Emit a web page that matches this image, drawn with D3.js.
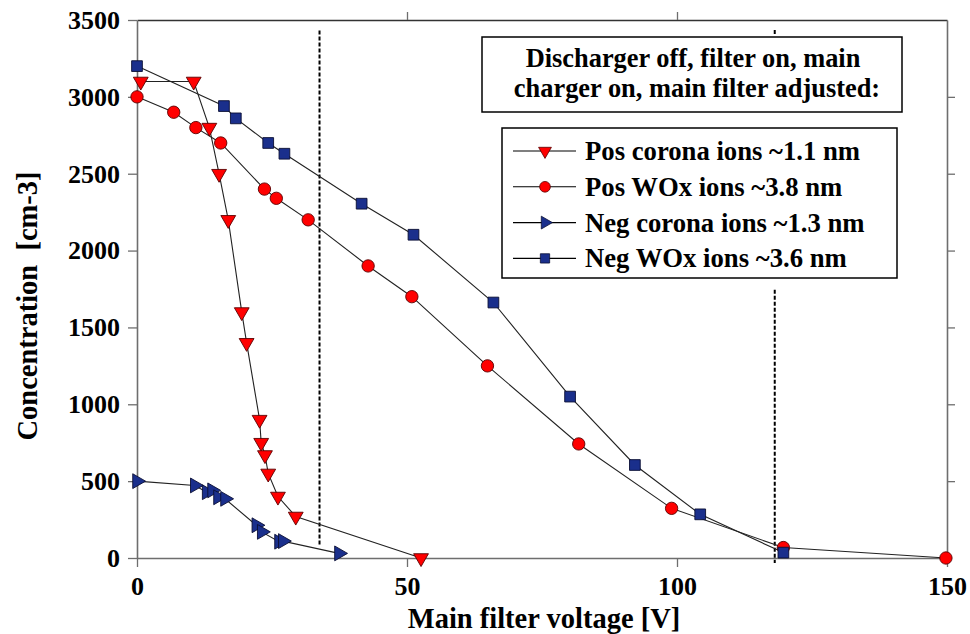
<!DOCTYPE html>
<html lang="en">
<head>
<meta charset="UTF-8">
<title>Main filter voltage</title>
<style>
  body { margin: 0; background: #fff; }
</style>
</head>
<body>
<script src="https://d3js.org/d3.v7.min.js"></script>
<script>
// values
let posCoronaX = [0.7, 10.5, 13.4, 15.2, 16.9, 19.4, 20.3, 22.7, 23.0, 23.7, 24.3, 26.1, 29.4, 52.6];
let posCoronaY = [3100, 3100, 2800, 2500, 2200, 1600, 1400, 900, 750, 670, 550, 400, 270, 0];

let posWoxX = [0, 6.8, 10.9, 15.5, 23.6, 25.8, 31.7, 42.8, 50.9, 64.9, 81.8, 99.0, 119.7, 149.8];
let posWoxY = [3000, 2900, 2800, 2700, 2400, 2340, 2200, 1900, 1700, 1250, 742, 323, 68, 0];

let negCoronaX = [0, 10.7, 12.9, 13.9, 15.0, 16.3, 22.1, 23.1, 26.3, 27.0, 37.4];
let negCoronaY = [500, 472, 428, 440, 395, 385, 213, 170, 106, 110, 30];

let negWoxX = [0, 16.1, 18.3, 24.3, 27.3, 41.6, 51.2, 66.0, 80.2, 92.2, 104.3, 119.7];
let negWoxY = [3200, 2940, 2860, 2700, 2630, 2305, 2103, 1662, 1050, 605, 284, 35];

let seriesNames = ["Pos corona ions ~1.1 nm", "Pos WOx ions ~3.8 nm", "Neg corona ions ~1.3 nm", "Neg WOx ions ~3.6 nm"];

let xTicks = [0, 50, 100, 150];
let yTicks = [0, 500, 1000, 1500, 2000, 2500, 3000, 3500];

// dashed markers: [x, yFrom, yTo]
let dashLines = [[33.8, 3431, 85], [118.1, 3435, 3405], [118.1, 1745, -33]];

let titleLines = ["Discharger off, filter on, main", "charger on, main filter adjusted:"];

let serifFont = "'Liberation Serif', 'DejaVu Serif', 'Noto Serif', 'Times New Roman', serif";

// layout
let svgWidth = 970, svgHeight = 634;
let margin = { top: 20, right: 23, bottom: 76, left: 137 };
let chartWidth = svgWidth - margin.left - margin.right;
let chartHeight = svgHeight - margin.top - margin.bottom;

let svg = d3.select("body").append("svg")
  .attr("width", svgWidth)
  .attr("height", svgHeight)
  .attr("font-family", serifFont)
  .attr("font-weight", "bold");

let g = svg.append("g")
  .attr("transform", `translate(${margin.left},${margin.top})`);

let xScale = d3.scaleLinear().domain([0, 150]).range([0, chartWidth]);
let yScale = d3.scaleLinear().domain([0, 3500]).range([chartHeight, 0]);

// axes
let axisColor = "#6e6e6e";
function styleAxis(sel) {
  sel.attr("font-family", serifFont).attr("font-size", 26);
  sel.select(".domain").attr("stroke", axisColor).attr("stroke-width", 1.6);
  sel.selectAll(".tick line").attr("stroke", axisColor).attr("stroke-width", 1.3);
  sel.selectAll("text").attr("fill", "#000");
}

g.append("g")
  .attr("transform", `translate(0,${chartHeight})`)
  .call(d3.axisBottom(xScale).tickValues(xTicks).tickFormat(d3.format("d")).tickSize(9).tickSizeOuter(0).tickPadding(10))
  .call(styleAxis);

g.append("g")
  .call(d3.axisTop(xScale).tickValues([50, 100]).tickSize(8).tickSizeOuter(0).tickFormat(""))
  .call(styleAxis)
  .select(".domain").attr("stroke", "#333");

g.append("g")
  .attr("transform", `translate(${chartWidth},0)`)
  .call(d3.axisRight(yScale).tickValues([500, 1000, 1500, 2000, 2500, 3000]).tickSize(8).tickSizeOuter(0).tickFormat(""))
  .call(styleAxis);

g.append("g")
  .call(d3.axisLeft(yScale).tickValues(yTicks).tickFormat(d3.format("d")).tickSize(9).tickSizeOuter(0).tickPadding(8))
  .call(styleAxis);

// axis titles
g.append("text")
  .attr("x", chartWidth / 2 + 2)
  .attr("y", chartHeight + 70)
  .attr("text-anchor", "middle")
  .attr("font-size", 28.5)
  .text("Main filter voltage [V]");

g.append("text")
  .attr("transform", "rotate(-90)")
  .attr("x", -(306 - margin.top))
  .attr("y", -margin.left + 37)
  .attr("text-anchor", "middle")
  .attr("font-size", 28.5)
  .style("white-space", "pre")
  .text("Concentration  [cm-3]");

// dashed vertical lines
g.selectAll(".dash")
  .data(dashLines)
  .enter()
  .append("line")
  .attr("x1", d => xScale(d[0]))
  .attr("x2", d => xScale(d[0]))
  .attr("y1", d => yScale(d[1]))
  .attr("y2", d => yScale(d[2]))
  .attr("stroke", "#000")
  .attr("stroke-width", 2)
  .attr("stroke-dasharray", "4,2");

// series
let red = "#ff0000", redEdge = "#5a0000";
let blue = "#1a2f8c", blueEdge = "#0a0f33";

let series = [
  { name: seriesNames[0], xs: posCoronaX, ys: posCoronaY, shape: d3.symbolTriangle, rot: 180, size: 95, fill: red, edge: redEdge },
  { name: seriesNames[1], xs: posWoxX, ys: posWoxY, shape: d3.symbolCircle, rot: 0, size: 120, fill: red, edge: redEdge },
  { name: seriesNames[2], xs: negCoronaX, ys: negCoronaY, shape: d3.symbolTriangle, rot: 90, size: 95, fill: blue, edge: blueEdge },
  { name: seriesNames[3], xs: negWoxX, ys: negWoxY, shape: d3.symbolSquare, rot: 0, size: 115, fill: blue, edge: blueEdge }
];

let line = d3.line()
  .x(d => xScale(d[0]))
  .y(d => yScale(d[1]));

series.forEach(function(s) {
  let pts = s.xs.map((x, i) => [x, s.ys[i]]);
  g.append("path")
    .datum(pts)
    .attr("fill", "none")
    .attr("stroke", "#222")
    .attr("stroke-width", 1.1)
    .attr("d", line);
});

series.forEach(function(s) {
  let pts = s.xs.map((x, i) => [x, s.ys[i]]);
  g.selectAll(null)
    .data(pts)
    .enter()
    .append("path")
    .attr("d", d3.symbol().type(s.shape).size(s.size))
    .attr("transform", d => `translate(${xScale(d[0])},${yScale(d[1])}) rotate(${s.rot})`)
    .attr("fill", s.fill)
    .attr("stroke", s.edge)
    .attr("stroke-width", 0.9);
});

// title box
let titleBox = svg.append("g").attr("transform", "translate(482,37)");
titleBox.append("rect")
  .attr("width", 420).attr("height", 75)
  .attr("fill", "#fff").attr("stroke", "#000").attr("stroke-width", 1.5);
titleBox.selectAll("text")
  .data(titleLines)
  .enter()
  .append("text")
  .attr("x", (d, i) => 211 + i * 4)
  .attr("y", (d, i) => 30 + i * 30)
  .attr("text-anchor", "middle")
  .attr("font-size", 26.4)
  .text(d => d);

// legend box
let legend = svg.append("g").attr("transform", "translate(502,128)");
legend.append("rect")
  .attr("width", 395).attr("height", 150)
  .attr("fill", "#fff").attr("stroke", "#000").attr("stroke-width", 1.5);

let rows = legend.selectAll(".row")
  .data(series)
  .enter()
  .append("g")
  .attr("transform", (d, i) => `translate(0,${23 + i * 35.8})`);

rows.append("line")
  .attr("x1", 11).attr("x2", 74)
  .attr("stroke", "#000").attr("stroke-width", 1.1);

rows.append("path")
  .attr("d", d => d3.symbol().type(d.shape).size(d.size * 0.75)())
  .attr("transform", d => `translate(43,0) rotate(${d.rot})`)
  .attr("fill", d => d.fill)
  .attr("stroke", d => d.edge)
  .attr("stroke-width", 0.8);

rows.append("text")
  .attr("x", 83)
  .attr("y", 9)
  .attr("font-size", 26.7)
  .text(d => d.name);
</script>
</body>
</html>
